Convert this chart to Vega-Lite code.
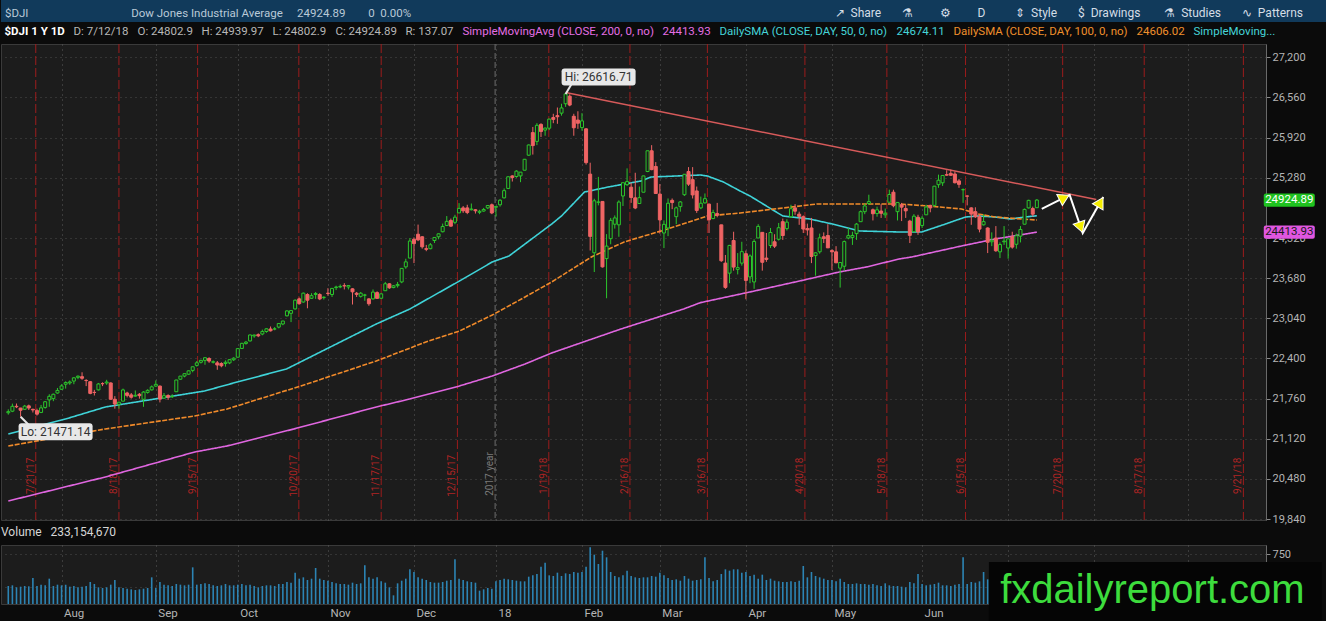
{
"$schema": "https://vega.github.io/schema/vega-lite/v6.json",
"background": "#0b0b0b",
"padding": 0,
"spacing": 0,
"config": {
  "font": "Roboto",
  "view": {"stroke": null},
  "axis": {"labelFont": "Roboto", "labelFontSize": 11, "labelColor": "#b5b5b5"},
  "title": {"font": "Roboto", "fontWeight": "normal"}
},
"title": {"text": "↗\u00a0\u00a0Share\u00a0\u00a0\u00a0\u00a0\u00a0\u00a0\u00a0⚗\u00a0\u00a0\u00a0\u00a0\u00a0\u00a0\u00a0\u00a0\u00a0⚙\u00a0\u00a0\u00a0\u00a0\u00a0\u00a0\u00a0\u00a0\u00a0D\u00a0\u00a0\u00a0\u00a0\u00a0\u00a0\u00a0\u00a0\u00a0\u00a0⇕\u00a0\u00a0Style\u00a0\u00a0\u00a0\u00a0\u00a0\u00a0\u00a0$\u00a0\u00a0Drawings\u00a0\u00a0\u00a0\u00a0\u00a0\u00a0\u00a0\u00a0⚗\u00a0\u00a0Studies\u00a0\u00a0\u00a0\u00a0\u00a0\u00a0\u00a0∿\u00a0\u00a0Patterns", "anchor": "end", "orient": "top", "offset": -20, "dx": -24, "fontSize": 12, "color": "#d4dde6", "frame": "bounds"},
"resolve": {"scale": {"color": "independent", "fill": "independent", "strokeDash": "independent"}, "legend": {"color": "independent"}},
"datasets": {
  "ohlc": [
{"i":0,"d":"2017-07-13","o":21535,"h":21590,"l":21505,"c":21553,"v":270},
{"i":1,"d":"2017-07-14","o":21560,"h":21681,"l":21545,"c":21638,"v":280},
{"i":2,"d":"2017-07-17","o":21638,"h":21682,"l":21609,"c":21630,"v":250},
{"i":3,"d":"2017-07-18","o":21610,"h":21613,"l":21471.14,"c":21575,"v":260},
{"i":4,"d":"2017-07-19","o":21590,"h":21660,"l":21585,"c":21641,"v":270},
{"i":5,"d":"2017-07-20","o":21645,"h":21665,"l":21579,"c":21611,"v":265},
{"i":6,"d":"2017-07-21","o":21590,"h":21600,"l":21539,"c":21580,"v":390},
{"i":7,"d":"2017-07-24","o":21570,"h":21600,"l":21490,"c":21513,"v":270},
{"i":8,"d":"2017-07-25","o":21540,"h":21660,"l":21530,"c":21613,"v":290},
{"i":9,"d":"2017-07-26","o":21620,"h":21720,"l":21600,"c":21711,"v":280},
{"i":10,"d":"2017-07-27","o":21740,"h":21830,"l":21630,"c":21797,"v":380},
{"i":11,"d":"2017-07-28","o":21760,"h":21840,"l":21720,"c":21830,"v":270},
{"i":12,"d":"2017-07-31","o":21850,"h":21930,"l":21840,"c":21891,"v":290},
{"i":13,"d":"2017-08-01","o":21910,"h":21990,"l":21900,"c":21963,"v":280},
{"i":14,"d":"2017-08-02","o":21990,"h":22036,"l":21920,"c":22016,"v":290},
{"i":15,"d":"2017-08-03","o":22010,"h":22050,"l":21980,"c":22026,"v":260},
{"i":16,"d":"2017-08-04","o":22040,"h":22100,"l":21990,"c":22092,"v":270},
{"i":17,"d":"2017-08-07","o":22100,"h":22130,"l":22070,"c":22118,"v":250},
{"i":18,"d":"2017-08-08","o":22110,"h":22180,"l":22060,"c":22085,"v":260},
{"i":19,"d":"2017-08-09","o":22050,"h":22070,"l":21960,"c":22048,"v":270},
{"i":20,"d":"2017-08-10","o":22030,"h":22040,"l":21830,"c":21844,"v":330},
{"i":21,"d":"2017-08-11","o":21860,"h":21900,"l":21810,"c":21858,"v":300},
{"i":22,"d":"2017-08-14","o":21900,"h":22010,"l":21890,"c":21994,"v":250},
{"i":23,"d":"2017-08-15","o":22000,"h":22020,"l":21960,"c":21998,"v":240},
{"i":24,"d":"2017-08-16","o":22010,"h":22060,"l":21980,"c":22025,"v":250},
{"i":25,"d":"2017-08-17","o":22010,"h":22020,"l":21745,"c":21750,"v":290},
{"i":26,"d":"2017-08-18","o":21750,"h":21800,"l":21600,"c":21674,"v":360},
{"i":27,"d":"2017-08-21","o":21670,"h":21710,"l":21600,"c":21703,"v":250},
{"i":28,"d":"2017-08-22","o":21720,"h":21920,"l":21720,"c":21899,"v":240},
{"i":29,"d":"2017-08-23","o":21850,"h":21870,"l":21780,"c":21812,"v":230},
{"i":30,"d":"2017-08-24","o":21820,"h":21850,"l":21760,"c":21783,"v":220},
{"i":31,"d":"2017-08-25","o":21800,"h":21890,"l":21790,"c":21813,"v":210},
{"i":32,"d":"2017-08-28","o":21830,"h":21850,"l":21760,"c":21808,"v":220},
{"i":33,"d":"2017-08-29","o":21750,"h":21880,"l":21630,"c":21865,"v":230},
{"i":34,"d":"2017-08-30","o":21860,"h":21910,"l":21840,"c":21892,"v":240},
{"i":35,"d":"2017-08-31","o":21900,"h":21970,"l":21890,"c":21948,"v":400},
{"i":36,"d":"2017-09-01","o":21960,"h":22050,"l":21950,"c":21988,"v":240},
{"i":37,"d":"2017-09-05","o":21960,"h":21970,"l":21700,"c":21753,"v":330},
{"i":38,"d":"2017-09-06","o":21770,"h":21850,"l":21760,"c":21807,"v":290},
{"i":39,"d":"2017-09-07","o":21810,"h":21830,"l":21740,"c":21784,"v":280},
{"i":40,"d":"2017-09-08","o":21790,"h":21830,"l":21770,"c":21798,"v":270},
{"i":41,"d":"2017-09-11","o":21870,"h":22060,"l":21870,"c":22057,"v":300},
{"i":42,"d":"2017-09-12","o":22070,"h":22120,"l":22060,"c":22119,"v":290},
{"i":43,"d":"2017-09-13","o":22120,"h":22160,"l":22100,"c":22158,"v":280},
{"i":44,"d":"2017-09-14","o":22150,"h":22210,"l":22140,"c":22203,"v":290},
{"i":45,"d":"2017-09-15","o":22210,"h":22270,"l":22180,"c":22268,"v":550},
{"i":46,"d":"2017-09-18","o":22290,"h":22360,"l":22270,"c":22331,"v":290},
{"i":47,"d":"2017-09-19","o":22340,"h":22380,"l":22320,"c":22370,"v":300},
{"i":48,"d":"2017-09-20","o":22370,"h":22420,"l":22300,"c":22412,"v":310},
{"i":49,"d":"2017-09-21","o":22400,"h":22420,"l":22330,"c":22359,"v":300},
{"i":50,"d":"2017-09-22","o":22340,"h":22370,"l":22320,"c":22349,"v":280},
{"i":51,"d":"2017-09-25","o":22330,"h":22360,"l":22220,"c":22296,"v":270},
{"i":52,"d":"2017-09-26","o":22320,"h":22340,"l":22260,"c":22284,"v":280},
{"i":53,"d":"2017-09-27","o":22320,"h":22370,"l":22270,"c":22340,"v":300},
{"i":54,"d":"2017-09-28","o":22330,"h":22390,"l":22310,"c":22381,"v":280},
{"i":55,"d":"2017-09-29","o":22380,"h":22420,"l":22360,"c":22405,"v":280},
{"i":56,"d":"2017-10-02","o":22420,"h":22560,"l":22420,"c":22557,"v":290},
{"i":57,"d":"2017-10-03","o":22560,"h":22650,"l":22550,"c":22641,"v":300},
{"i":58,"d":"2017-10-04","o":22640,"h":22680,"l":22620,"c":22661,"v":280},
{"i":59,"d":"2017-10-05","o":22680,"h":22780,"l":22670,"c":22775,"v":290},
{"i":60,"d":"2017-10-06","o":22760,"h":22780,"l":22730,"c":22774,"v":270},
{"i":61,"d":"2017-10-09","o":22780,"h":22800,"l":22740,"c":22761,"v":250},
{"i":62,"d":"2017-10-10","o":22790,"h":22860,"l":22770,"c":22831,"v":270},
{"i":63,"d":"2017-10-11","o":22830,"h":22880,"l":22810,"c":22873,"v":280},
{"i":64,"d":"2017-10-12","o":22870,"h":22910,"l":22830,"c":22841,"v":280},
{"i":65,"d":"2017-10-13","o":22870,"h":22900,"l":22850,"c":22871,"v":270},
{"i":66,"d":"2017-10-16","o":22900,"h":22960,"l":22880,"c":22957,"v":300},
{"i":67,"d":"2017-10-17","o":22950,"h":23000,"l":22930,"c":22997,"v":300},
{"i":68,"d":"2017-10-18","o":23080,"h":23170,"l":23070,"c":23158,"v":330},
{"i":69,"d":"2017-10-19","o":23120,"h":23170,"l":22980,"c":23163,"v":320},
{"i":70,"d":"2017-10-20","o":23190,"h":23340,"l":23180,"c":23329,"v":470},
{"i":71,"d":"2017-10-23","o":23350,"h":23370,"l":23260,"c":23274,"v":380},
{"i":72,"d":"2017-10-24","o":23300,"h":23450,"l":23290,"c":23441,"v":400},
{"i":73,"d":"2017-10-25","o":23420,"h":23440,"l":23200,"c":23329,"v":360},
{"i":74,"d":"2017-10-26","o":23360,"h":23440,"l":23350,"c":23401,"v":380},
{"i":75,"d":"2017-10-27","o":23420,"h":23460,"l":23350,"c":23435,"v":540},
{"i":76,"d":"2017-10-30","o":23420,"h":23440,"l":23330,"c":23349,"v":380},
{"i":77,"d":"2017-10-31","o":23370,"h":23390,"l":23340,"c":23377,"v":360},
{"i":78,"d":"2017-11-01","o":23440,"h":23520,"l":23400,"c":23436,"v":350},
{"i":79,"d":"2017-11-02","o":23420,"h":23520,"l":23380,"c":23517,"v":330},
{"i":80,"d":"2017-11-03","o":23530,"h":23560,"l":23490,"c":23539,"v":310},
{"i":81,"d":"2017-11-06","o":23540,"h":23580,"l":23520,"c":23549,"v":300},
{"i":82,"d":"2017-11-07","o":23560,"h":23600,"l":23500,"c":23557,"v":300},
{"i":83,"d":"2017-11-08","o":23540,"h":23570,"l":23500,"c":23563,"v":290},
{"i":84,"d":"2017-11-09","o":23510,"h":23520,"l":23260,"c":23462,"v":320},
{"i":85,"d":"2017-11-10","o":23440,"h":23460,"l":23380,"c":23422,"v":300},
{"i":86,"d":"2017-11-13","o":23390,"h":23460,"l":23370,"c":23440,"v":310},
{"i":87,"d":"2017-11-14","o":23410,"h":23430,"l":23320,"c":23410,"v":580},
{"i":88,"d":"2017-11-15","o":23350,"h":23360,"l":23240,"c":23272,"v":400},
{"i":89,"d":"2017-11-16","o":23350,"h":23500,"l":23340,"c":23458,"v":380},
{"i":90,"d":"2017-11-17","o":23450,"h":23470,"l":23350,"c":23358,"v":400},
{"i":91,"d":"2017-11-20","o":23360,"h":23440,"l":23350,"c":23430,"v":340},
{"i":92,"d":"2017-11-21","o":23480,"h":23620,"l":23480,"c":23591,"v":320},
{"i":93,"d":"2017-11-22","o":23590,"h":23600,"l":23510,"c":23526,"v":250},
{"i":94,"d":"2017-11-24","o":23530,"h":23570,"l":23520,"c":23558,"v":130},
{"i":95,"d":"2017-11-27","o":23560,"h":23620,"l":23530,"c":23580,"v":310},
{"i":96,"d":"2017-11-28","o":23620,"h":23840,"l":23600,"c":23836,"v":350},
{"i":97,"d":"2017-11-29","o":23860,"h":23990,"l":23830,"c":23940,"v":380},
{"i":98,"d":"2017-11-30","o":24000,"h":24320,"l":24000,"c":24272,"v":520},
{"i":99,"d":"2017-12-01","o":24300,"h":24330,"l":23920,"c":24231,"v":480},
{"i":100,"d":"2017-12-04","o":24380,"h":24534,"l":24270,"c":24290,"v":400},
{"i":101,"d":"2017-12-05","o":24340,"h":24350,"l":24150,"c":24180,"v":380},
{"i":102,"d":"2017-12-06","o":24150,"h":24210,"l":24110,"c":24140,"v":360},
{"i":103,"d":"2017-12-07","o":24150,"h":24240,"l":24140,"c":24212,"v":330},
{"i":104,"d":"2017-12-08","o":24280,"h":24330,"l":24240,"c":24329,"v":320},
{"i":105,"d":"2017-12-11","o":24340,"h":24390,"l":24300,"c":24387,"v":320},
{"i":106,"d":"2017-12-12","o":24420,"h":24550,"l":24410,"c":24504,"v":330},
{"i":107,"d":"2017-12-13","o":24520,"h":24670,"l":24510,"c":24585,"v":350},
{"i":108,"d":"2017-12-14","o":24600,"h":24630,"l":24500,"c":24509,"v":360},
{"i":109,"d":"2017-12-15","o":24570,"h":24690,"l":24540,"c":24652,"v":670},
{"i":110,"d":"2017-12-18","o":24720,"h":24876,"l":24720,"c":24792,"v":380},
{"i":111,"d":"2017-12-19","o":24800,"h":24830,"l":24720,"c":24754,"v":360},
{"i":112,"d":"2017-12-20","o":24800,"h":24850,"l":24700,"c":24726,"v":340},
{"i":113,"d":"2017-12-21","o":24770,"h":24870,"l":24760,"c":24782,"v":330},
{"i":114,"d":"2017-12-22","o":24770,"h":24780,"l":24710,"c":24754,"v":320},
{"i":115,"d":"2017-12-26","o":24730,"h":24770,"l":24700,"c":24746,"v":200},
{"i":116,"d":"2017-12-27","o":24750,"h":24800,"l":24740,"c":24775,"v":220},
{"i":117,"d":"2017-12-28","o":24800,"h":24840,"l":24780,"c":24838,"v":240},
{"i":118,"d":"2017-12-29","o":24850,"h":24870,"l":24700,"c":24719,"v":230},
{"i":119,"d":"2018-01-02","o":24810,"h":24830,"l":24660,"c":24824,"v":340},
{"i":120,"d":"2018-01-03","o":24850,"h":24940,"l":24820,"c":24922,"v":360},
{"i":121,"d":"2018-01-04","o":24960,"h":25110,"l":24950,"c":25075,"v":380},
{"i":122,"d":"2018-01-05","o":25110,"h":25300,"l":25100,"c":25296,"v":370},
{"i":123,"d":"2018-01-08","o":25310,"h":25320,"l":25220,"c":25283,"v":360},
{"i":124,"d":"2018-01-09","o":25300,"h":25400,"l":25280,"c":25386,"v":350},
{"i":125,"d":"2018-01-10","o":25310,"h":25370,"l":25210,"c":25370,"v":340},
{"i":126,"d":"2018-01-11","o":25400,"h":25580,"l":25400,"c":25575,"v":340},
{"i":127,"d":"2018-01-12","o":25640,"h":25810,"l":25630,"c":25803,"v":410},
{"i":128,"d":"2018-01-16","o":26000,"h":26090,"l":25650,"c":25793,"v":430},
{"i":129,"d":"2018-01-17","o":25860,"h":26150,"l":25800,"c":26116,"v":450},
{"i":130,"d":"2018-01-18","o":26130,"h":26150,"l":25930,"c":26017,"v":560},
{"i":131,"d":"2018-01-19","o":26040,"h":26080,"l":25950,"c":26072,"v":620},
{"i":132,"d":"2018-01-22","o":26070,"h":26220,"l":26040,"c":26215,"v":430},
{"i":133,"d":"2018-01-23","o":26240,"h":26300,"l":26150,"c":26211,"v":420},
{"i":134,"d":"2018-01-24","o":26270,"h":26400,"l":26140,"c":26253,"v":470},
{"i":135,"d":"2018-01-25","o":26310,"h":26460,"l":26270,"c":26393,"v":420},
{"i":136,"d":"2018-01-26","o":26460,"h":26616.71,"l":26410,"c":26616.71,"v":460},
{"i":137,"d":"2018-01-29","o":26580,"h":26610,"l":26420,"c":26439,"v":450},
{"i":138,"d":"2018-01-30","o":26260,"h":26300,"l":25950,"c":26077,"v":480},
{"i":139,"d":"2018-01-31","o":26200,"h":26340,"l":26060,"c":26149,"v":470},
{"i":140,"d":"2018-02-01","o":26080,"h":26310,"l":26030,"c":26187,"v":480},
{"i":141,"d":"2018-02-02","o":26060,"h":26070,"l":25490,"c":25521,"v":560},
{"i":142,"d":"2018-02-05","o":25338,"h":25520,"l":24121,"c":24346,"v":850},
{"i":143,"d":"2018-02-06","o":24085,"h":24946,"l":23778,"c":24913,"v":740},
{"i":144,"d":"2018-02-07","o":24890,"h":25294,"l":24840,"c":24893,"v":600},
{"i":145,"d":"2018-02-08","o":24903,"h":24903,"l":23849,"c":23860,"v":800},
{"i":146,"d":"2018-02-09","o":23992,"h":24382,"l":23360,"c":24191,"v":700},
{"i":147,"d":"2018-02-12","o":24310,"h":24640,"l":24220,"c":24602,"v":480},
{"i":148,"d":"2018-02-13","o":24540,"h":24680,"l":24470,"c":24640,"v":420},
{"i":149,"d":"2018-02-14","o":24530,"h":24920,"l":24340,"c":24893,"v":400},
{"i":150,"d":"2018-02-15","o":24990,"h":25200,"l":24830,"c":25201,"v":430},
{"i":151,"d":"2018-02-16","o":25170,"h":25430,"l":25150,"c":25219,"v":500},
{"i":152,"d":"2018-02-20","o":25130,"h":25200,"l":24880,"c":24965,"v":420},
{"i":153,"d":"2018-02-21","o":24960,"h":25360,"l":24780,"c":24798,"v":400},
{"i":154,"d":"2018-02-22","o":24870,"h":25140,"l":24870,"c":24963,"v":390},
{"i":155,"d":"2018-02-23","o":25050,"h":25310,"l":25050,"c":25310,"v":400},
{"i":156,"d":"2018-02-26","o":25380,"h":25710,"l":25370,"c":25710,"v":400},
{"i":157,"d":"2018-02-27","o":25710,"h":25800,"l":25400,"c":25410,"v":420},
{"i":158,"d":"2018-02-28","o":25460,"h":25530,"l":25030,"c":25029,"v":410},
{"i":159,"d":"2018-03-01","o":25020,"h":25180,"l":24390,"c":24609,"v":470},
{"i":160,"d":"2018-03-02","o":24400,"h":24600,"l":24160,"c":24538,"v":430},
{"i":161,"d":"2018-03-05","o":24480,"h":24950,"l":24350,"c":24874,"v":390},
{"i":162,"d":"2018-03-06","o":24920,"h":24950,"l":24780,"c":24885,"v":360},
{"i":163,"d":"2018-03-07","o":24660,"h":24820,"l":24540,"c":24801,"v":370},
{"i":164,"d":"2018-03-08","o":24820,"h":24910,"l":24740,"c":24895,"v":350},
{"i":165,"d":"2018-03-09","o":25010,"h":25340,"l":24990,"c":25336,"v":420},
{"i":166,"d":"2018-03-12","o":25380,"h":25450,"l":25150,"c":25179,"v":380},
{"i":167,"d":"2018-03-13","o":25250,"h":25450,"l":24950,"c":25007,"v":350},
{"i":168,"d":"2018-03-14","o":25070,"h":25140,"l":24720,"c":24759,"v":360},
{"i":169,"d":"2018-03-15","o":24800,"h":24980,"l":24780,"c":24874,"v":370},
{"i":170,"d":"2018-03-16","o":24880,"h":25030,"l":24870,"c":24947,"v":700},
{"i":171,"d":"2018-03-19","o":24860,"h":24870,"l":24400,"c":24611,"v":390},
{"i":172,"d":"2018-03-20","o":24630,"h":24770,"l":24620,"c":24727,"v":340},
{"i":173,"d":"2018-03-21","o":24710,"h":24880,"l":24650,"c":24683,"v":360},
{"i":174,"d":"2018-03-22","o":24530,"h":24530,"l":23940,"c":23958,"v":450},
{"i":175,"d":"2018-03-23","o":23920,"h":24050,"l":23510,"c":23533,"v":520},
{"i":176,"d":"2018-03-26","o":23760,"h":24210,"l":23600,"c":24202,"v":500},
{"i":177,"d":"2018-03-27","o":24280,"h":24420,"l":23800,"c":23857,"v":520},
{"i":178,"d":"2018-03-28","o":23820,"h":24080,"l":23740,"c":23849,"v":520},
{"i":179,"d":"2018-03-29","o":23920,"h":24260,"l":23880,"c":24103,"v":470},
{"i":180,"d":"2018-04-02","o":24070,"h":24120,"l":23344,"c":23644,"v":480},
{"i":181,"d":"2018-04-03","o":23700,"h":24060,"l":23600,"c":24034,"v":420},
{"i":182,"d":"2018-04-04","o":23620,"h":24300,"l":23510,"c":24265,"v":440},
{"i":183,"d":"2018-04-05","o":24320,"h":24540,"l":24320,"c":24505,"v":380},
{"i":184,"d":"2018-04-06","o":24410,"h":24410,"l":23800,"c":23933,"v":440},
{"i":185,"d":"2018-04-09","o":24000,"h":24400,"l":23940,"c":23979,"v":360},
{"i":186,"d":"2018-04-10","o":24200,"h":24480,"l":24160,"c":24408,"v":380},
{"i":187,"d":"2018-04-11","o":24260,"h":24380,"l":24160,"c":24190,"v":350},
{"i":188,"d":"2018-04-12","o":24300,"h":24560,"l":24280,"c":24484,"v":340},
{"i":189,"d":"2018-04-13","o":24580,"h":24630,"l":24290,"c":24360,"v":330},
{"i":190,"d":"2018-04-16","o":24470,"h":24620,"l":24440,"c":24573,"v":330},
{"i":191,"d":"2018-04-17","o":24660,"h":24850,"l":24640,"c":24787,"v":340},
{"i":192,"d":"2018-04-18","o":24800,"h":24860,"l":24690,"c":24748,"v":330},
{"i":193,"d":"2018-04-19","o":24700,"h":24740,"l":24530,"c":24665,"v":350},
{"i":194,"d":"2018-04-20","o":24660,"h":24680,"l":24400,"c":24463,"v":570},
{"i":195,"d":"2018-04-23","o":24470,"h":24550,"l":24360,"c":24449,"v":400},
{"i":196,"d":"2018-04-24","o":24480,"h":24640,"l":23920,"c":24025,"v":480},
{"i":197,"d":"2018-04-25","o":24040,"h":24090,"l":23720,"c":24084,"v":420},
{"i":198,"d":"2018-04-26","o":24100,"h":24390,"l":24070,"c":24323,"v":400},
{"i":199,"d":"2018-04-27","o":24340,"h":24410,"l":24240,"c":24311,"v":380},
{"i":200,"d":"2018-04-30","o":24360,"h":24540,"l":24160,"c":24163,"v":360},
{"i":201,"d":"2018-05-01","o":24120,"h":24140,"l":23810,"c":24100,"v":360},
{"i":202,"d":"2018-05-02","o":24100,"h":24190,"l":23920,"c":23925,"v":340},
{"i":203,"d":"2018-05-03","o":23840,"h":23930,"l":23530,"c":23930,"v":380},
{"i":204,"d":"2018-05-04","o":23870,"h":24280,"l":23800,"c":24263,"v":330},
{"i":205,"d":"2018-05-07","o":24320,"h":24480,"l":24300,"c":24358,"v":300},
{"i":206,"d":"2018-05-08","o":24330,"h":24420,"l":24210,"c":24361,"v":300},
{"i":207,"d":"2018-05-09","o":24390,"h":24560,"l":24290,"c":24542,"v":310},
{"i":208,"d":"2018-05-10","o":24580,"h":24760,"l":24580,"c":24740,"v":300},
{"i":209,"d":"2018-05-11","o":24740,"h":24870,"l":24700,"c":24831,"v":300},
{"i":210,"d":"2018-05-14","o":24870,"h":25010,"l":24850,"c":24900,"v":290},
{"i":211,"d":"2018-05-15","o":24770,"h":24790,"l":24600,"c":24707,"v":300},
{"i":212,"d":"2018-05-16","o":24710,"h":24820,"l":24660,"c":24769,"v":280},
{"i":213,"d":"2018-05-17","o":24750,"h":24860,"l":24640,"c":24714,"v":270},
{"i":214,"d":"2018-05-18","o":24690,"h":24790,"l":24640,"c":24715,"v":310},
{"i":215,"d":"2018-05-21","o":24890,"h":25090,"l":24890,"c":25013,"v":280},
{"i":216,"d":"2018-05-22","o":25050,"h":25090,"l":24810,"c":24835,"v":270},
{"i":217,"d":"2018-05-23","o":24740,"h":24890,"l":24600,"c":24887,"v":270},
{"i":218,"d":"2018-05-24","o":24850,"h":24880,"l":24590,"c":24812,"v":260},
{"i":219,"d":"2018-05-25","o":24790,"h":24850,"l":24640,"c":24753,"v":250},
{"i":220,"d":"2018-05-29","o":24590,"h":24610,"l":24240,"c":24362,"v":330},
{"i":221,"d":"2018-05-30","o":24420,"h":24700,"l":24420,"c":24668,"v":310},
{"i":222,"d":"2018-05-31","o":24650,"h":24690,"l":24370,"c":24416,"v":450},
{"i":223,"d":"2018-06-01","o":24520,"h":24670,"l":24480,"c":24635,"v":300},
{"i":224,"d":"2018-06-04","o":24690,"h":24850,"l":24690,"c":24814,"v":280},
{"i":225,"d":"2018-06-05","o":24840,"h":24850,"l":24730,"c":24800,"v":290},
{"i":226,"d":"2018-06-06","o":24840,"h":25150,"l":24820,"c":25146,"v":300},
{"i":227,"d":"2018-06-07","o":25170,"h":25330,"l":25120,"c":25241,"v":320},
{"i":228,"d":"2018-06-08","o":25200,"h":25320,"l":25150,"c":25317,"v":280},
{"i":229,"d":"2018-06-11","o":25330,"h":25400,"l":25310,"c":25322,"v":280},
{"i":230,"d":"2018-06-12","o":25350,"h":25410,"l":25310,"c":25320,"v":270},
{"i":231,"d":"2018-06-13","o":25340,"h":25380,"l":25190,"c":25201,"v":290},
{"i":232,"d":"2018-06-14","o":25230,"h":25260,"l":25120,"c":25175,"v":300},
{"i":233,"d":"2018-06-15","o":25090,"h":25110,"l":24880,"c":25090,"v":700},
{"i":234,"d":"2018-06-18","o":24990,"h":25000,"l":24840,"c":24987,"v":300},
{"i":235,"d":"2018-06-19","o":24800,"h":24810,"l":24530,"c":24701,"v":330},
{"i":236,"d":"2018-06-20","o":24740,"h":24810,"l":24640,"c":24658,"v":320},
{"i":237,"d":"2018-06-21","o":24660,"h":24700,"l":24410,"c":24462,"v":340},
{"i":238,"d":"2018-06-22","o":24530,"h":24700,"l":24520,"c":24581,"v":480},
{"i":239,"d":"2018-06-25","o":24480,"h":24490,"l":24080,"c":24252,"v":370},
{"i":240,"d":"2018-06-26","o":24260,"h":24410,"l":24190,"c":24284,"v":330},
{"i":241,"d":"2018-06-27","o":24320,"h":24510,"l":24100,"c":24117,"v":340},
{"i":242,"d":"2018-06-28","o":24100,"h":24250,"l":24000,"c":24216,"v":310},
{"i":243,"d":"2018-06-29","o":24260,"h":24510,"l":24210,"c":24271,"v":350},
{"i":244,"d":"2018-07-02","o":24160,"h":24310,"l":23990,"c":24307,"v":200},
{"i":245,"d":"2018-07-03","o":24340,"h":24420,"l":24150,"c":24175,"v":140},
{"i":246,"d":"2018-07-05","o":24220,"h":24390,"l":24150,"c":24357,"v":230},
{"i":247,"d":"2018-07-06","o":24350,"h":24510,"l":24250,"c":24456,"v":230},
{"i":248,"d":"2018-07-09","o":24540,"h":24790,"l":24540,"c":24776,"v":260},
{"i":249,"d":"2018-07-10","o":24800,"h":24930,"l":24790,"c":24920,"v":250},
{"i":250,"d":"2018-07-11","o":24790,"h":24820,"l":24660,"c":24700,"v":270},
{"i":251,"d":"2018-07-12","o":24802.9,"h":24939.97,"l":24802.9,"c":24924.89,"v":233.15467}
  ],
  "sma": [
{"s":"SimpleMovingAvg (CLOSE, 200, 0, no)","i":0,"p":20129},
{"s":"SimpleMovingAvg (CLOSE, 200, 0, no)","i":23.7,"p":20512},
{"s":"SimpleMovingAvg (CLOSE, 200, 0, no)","i":45.5,"p":20910},
{"s":"SimpleMovingAvg (CLOSE, 200, 0, no)","i":53.4,"p":21006},
{"s":"SimpleMovingAvg (CLOSE, 200, 0, no)","i":69.7,"p":21277},
{"s":"SimpleMovingAvg (CLOSE, 200, 0, no)","i":89.8,"p":21627},
{"s":"SimpleMovingAvg (CLOSE, 200, 0, no)","i":98,"p":21755},
{"s":"SimpleMovingAvg (CLOSE, 200, 0, no)","i":110.1,"p":21962},
{"s":"SimpleMovingAvg (CLOSE, 200, 0, no)","i":118.1,"p":22121},
{"s":"SimpleMovingAvg (CLOSE, 200, 0, no)","i":126.1,"p":22312},
{"s":"SimpleMovingAvg (CLOSE, 200, 0, no)","i":132.6,"p":22488},
{"s":"SimpleMovingAvg (CLOSE, 200, 0, no)","i":149.5,"p":22870},
{"s":"SimpleMovingAvg (CLOSE, 200, 0, no)","i":164.8,"p":23189},
{"s":"SimpleMovingAvg (CLOSE, 200, 0, no)","i":168.9,"p":23290},
{"s":"SimpleMovingAvg (CLOSE, 200, 0, no)","i":181,"p":23460},
{"s":"SimpleMovingAvg (CLOSE, 200, 0, no)","i":193.1,"p":23635},
{"s":"SimpleMovingAvg (CLOSE, 200, 0, no)","i":202.8,"p":23779},
{"s":"SimpleMovingAvg (CLOSE, 200, 0, no)","i":209.4,"p":23858},
{"s":"SimpleMovingAvg (CLOSE, 200, 0, no)","i":217.4,"p":23986},
{"s":"SimpleMovingAvg (CLOSE, 200, 0, no)","i":220.5,"p":24018},
{"s":"SimpleMovingAvg (CLOSE, 200, 0, no)","i":232.6,"p":24193},
{"s":"SimpleMovingAvg (CLOSE, 200, 0, no)","i":240.8,"p":24304},
{"s":"SimpleMovingAvg (CLOSE, 200, 0, no)","i":251,"p":24413.93},
{"s":"DailySMA (CLOSE, DAY, 50, 0, no)","i":0,"p":21197},
{"s":"DailySMA (CLOSE, DAY, 50, 0, no)","i":14,"p":21436},
{"s":"DailySMA (CLOSE, DAY, 50, 0, no)","i":23.7,"p":21627},
{"s":"DailySMA (CLOSE, DAY, 50, 0, no)","i":35.8,"p":21755},
{"s":"DailySMA (CLOSE, DAY, 50, 0, no)","i":47.9,"p":21882},
{"s":"DailySMA (CLOSE, DAY, 50, 0, no)","i":55.9,"p":22026},
{"s":"DailySMA (CLOSE, DAY, 50, 0, no)","i":67.9,"p":22233},
{"s":"DailySMA (CLOSE, DAY, 50, 0, no)","i":77.6,"p":22551},
{"s":"DailySMA (CLOSE, DAY, 50, 0, no)","i":89.8,"p":22950},
{"s":"DailySMA (CLOSE, DAY, 50, 0, no)","i":98,"p":23189},
{"s":"DailySMA (CLOSE, DAY, 50, 0, no)","i":110.1,"p":23635},
{"s":"DailySMA (CLOSE, DAY, 50, 0, no)","i":118.1,"p":23938},
{"s":"DailySMA (CLOSE, DAY, 50, 0, no)","i":122.2,"p":24034},
{"s":"DailySMA (CLOSE, DAY, 50, 0, no)","i":132.6,"p":24543},
{"s":"DailySMA (CLOSE, DAY, 50, 0, no)","i":135,"p":24671},
{"s":"DailySMA (CLOSE, DAY, 50, 0, no)","i":140.6,"p":25053},
{"s":"DailySMA (CLOSE, DAY, 50, 0, no)","i":146.4,"p":25133},
{"s":"DailySMA (CLOSE, DAY, 50, 0, no)","i":154.4,"p":25229},
{"s":"DailySMA (CLOSE, DAY, 50, 0, no)","i":156.8,"p":25292},
{"s":"DailySMA (CLOSE, DAY, 50, 0, no)","i":168.9,"p":25324},
{"s":"DailySMA (CLOSE, DAY, 50, 0, no)","i":170.6,"p":25308},
{"s":"DailySMA (CLOSE, DAY, 50, 0, no)","i":174.5,"p":25213},
{"s":"DailySMA (CLOSE, DAY, 50, 0, no)","i":178.6,"p":25069},
{"s":"DailySMA (CLOSE, DAY, 50, 0, no)","i":181,"p":24990},
{"s":"DailySMA (CLOSE, DAY, 50, 0, no)","i":189,"p":24671},
{"s":"DailySMA (CLOSE, DAY, 50, 0, no)","i":195.6,"p":24623},
{"s":"DailySMA (CLOSE, DAY, 50, 0, no)","i":201.1,"p":24543},
{"s":"DailySMA (CLOSE, DAY, 50, 0, no)","i":207.7,"p":24432},
{"s":"DailySMA (CLOSE, DAY, 50, 0, no)","i":217.4,"p":24416},
{"s":"DailySMA (CLOSE, DAY, 50, 0, no)","i":222.9,"p":24416},
{"s":"DailySMA (CLOSE, DAY, 50, 0, no)","i":228.7,"p":24543},
{"s":"DailySMA (CLOSE, DAY, 50, 0, no)","i":233.6,"p":24655},
{"s":"DailySMA (CLOSE, DAY, 50, 0, no)","i":236.7,"p":24671},
{"s":"DailySMA (CLOSE, DAY, 50, 0, no)","i":240.8,"p":24655},
{"s":"DailySMA (CLOSE, DAY, 50, 0, no)","i":244.7,"p":24623},
{"s":"DailySMA (CLOSE, DAY, 50, 0, no)","i":248.1,"p":24655},
{"s":"DailySMA (CLOSE, DAY, 50, 0, no)","i":251,"p":24674.11},
{"s":"DailySMA (CLOSE, DAY, 100, 0, no)","i":0,"p":21006},
{"s":"DailySMA (CLOSE, DAY, 100, 0, no)","i":23.7,"p":21277},
{"s":"DailySMA (CLOSE, DAY, 100, 0, no)","i":45.5,"p":21484},
{"s":"DailySMA (CLOSE, DAY, 100, 0, no)","i":53.4,"p":21595},
{"s":"DailySMA (CLOSE, DAY, 100, 0, no)","i":71.4,"p":21962},
{"s":"DailySMA (CLOSE, DAY, 100, 0, no)","i":89.8,"p":22360},
{"s":"DailySMA (CLOSE, DAY, 100, 0, no)","i":101.9,"p":22663},
{"s":"DailySMA (CLOSE, DAY, 100, 0, no)","i":110.1,"p":22838},
{"s":"DailySMA (CLOSE, DAY, 100, 0, no)","i":118.1,"p":23093},
{"s":"DailySMA (CLOSE, DAY, 100, 0, no)","i":126.1,"p":23380},
{"s":"DailySMA (CLOSE, DAY, 100, 0, no)","i":132.6,"p":23619},
{"s":"DailySMA (CLOSE, DAY, 100, 0, no)","i":142.3,"p":24018},
{"s":"DailySMA (CLOSE, DAY, 100, 0, no)","i":150.3,"p":24257},
{"s":"DailySMA (CLOSE, DAY, 100, 0, no)","i":160.9,"p":24464},
{"s":"DailySMA (CLOSE, DAY, 100, 0, no)","i":170.6,"p":24671},
{"s":"DailySMA (CLOSE, DAY, 100, 0, no)","i":178.6,"p":24719},
{"s":"DailySMA (CLOSE, DAY, 100, 0, no)","i":189,"p":24798},
{"s":"DailySMA (CLOSE, DAY, 100, 0, no)","i":197.3,"p":24862},
{"s":"DailySMA (CLOSE, DAY, 100, 0, no)","i":209.4,"p":24862},
{"s":"DailySMA (CLOSE, DAY, 100, 0, no)","i":217.4,"p":24862},
{"s":"DailySMA (CLOSE, DAY, 100, 0, no)","i":224.6,"p":24830},
{"s":"DailySMA (CLOSE, DAY, 100, 0, no)","i":232.6,"p":24783},
{"s":"DailySMA (CLOSE, DAY, 100, 0, no)","i":236.7,"p":24703},
{"s":"DailySMA (CLOSE, DAY, 100, 0, no)","i":240.8,"p":24655},
{"s":"DailySMA (CLOSE, DAY, 100, 0, no)","i":251,"p":24606.02}
  ],
  "opex": [
{"i":6.7,"t":"7/21/17"},{"i":27,"t":"8/18/17"},{"i":46.2,"t":"9/15/17"},{"i":70.9,"t":"10/20/17"},{"i":91,"t":"11/17/17"},{"i":109.6,"t":"12/15/17"},{"i":131.9,"t":"1/19/18"},{"i":151.7,"t":"2/16/18"},{"i":170.6,"t":"3/16/18"},{"i":194.4,"t":"4/20/18"},{"i":214.4,"t":"5/18/18"},{"i":233.6,"t":"6/15/18"},{"i":257.3,"t":"7/20/18"},{"i":277.2,"t":"8/17/18"},{"i":301.4,"t":"9/21/18"}
  ],
  "yearline": [{"i":118.8,"t":"2017 year"}],
  "trend": [{"i":136,"p":26640},{"i":265.5,"p":24935}],
  "arrowPath": [{"k":0,"i":252.2,"p":24783},{"k":1,"i":259.0,"p":25006},{"k":2,"i":262.2,"p":24400},{"k":3,"i":267.2,"p":24974}],
  "arrowHeads": [{"n":1,"i":257.7,"p":24963},{"n":2,"i":261.7,"p":24491},{"n":3,"i":266.5,"p":24891}],
  "callout": [{"k":"hi","t":"Hi: 26616.71","i":136,"p":26616.71},{"k":"lo","t":"Lo: 21471.14","i":3,"p":21471.14}],
  "badge": [{"k":"close","t":"24924.89","p":24924.89},{"k":"sma200","t":"24413.93","p":24413.93}]
},
"vconcat": [
 {
  "width": 1326, "height": 22,
  "view": {"fill": "#113a5b", "stroke": null},
  "title": {"text": "\u00a0\u00a0$DJI\u00a0\u00a0\u00a0\u00a0\u00a0\u00a0\u00a0\u00a0\u00a0\u00a0\u00a0\u00a0\u00a0\u00a0\u00a0\u00a0\u00a0\u00a0\u00a0\u00a0\u00a0\u00a0\u00a0\u00a0\u00a0\u00a0\u00a0\u00a0\u00a0\u00a0\u00a0\u00a0\u00a0\u00a0\u00a0\u00a0Dow Jones Industrial Average\u00a0\u00a0\u00a0\u00a0\u00a024924.89\u00a0\u00a0\u00a0\u00a0\u00a0\u00a0\u00a0\u00a00\u00a0\u00a00.00%", "anchor": "start", "orient": "top", "offset": -19, "dx": 4, "fontSize": 11.5, "color": "#b9c9d7", "frame": "group"},
  "data": {"values": [{"t": ""}]},
  "mark": {"type": "text"},
  "encoding": {"text": {"field": "t"}}
 },
 {
  "width": 1265, "height": 476,
  "view": {"fill": "#1c1c1c", "stroke": "#3a3a3a"},
  "layer": [
   {"data": {"name": "opex"}, "mark": {"type": "rule", "color": "#9c1c1c", "strokeDash": [9, 3], "strokeWidth": 1},
    "encoding": {"x": {"field": "i", "type": "quantitative", "scale": {"domain": [-0.56, 305.7], "nice": false, "zero": false},
      "axis": {"values": [13,36,56,78,99,119,140,159,180,201,223,244,265,288], "grid": true, "gridColor": "#5c5c5c", "gridDash": [1, 4], "labels": false, "ticks": false, "domain": false, "title": null}}}},
   {"data": {"name": "yearline"}, "mark": {"type": "rule", "color": "#6e6e6e", "strokeDash": [6, 3], "strokeWidth": 1},
    "encoding": {"x": {"field": "i", "type": "quantitative", "scale": {"domain": [-0.56, 305.7], "nice": false, "zero": false}}}},
   {"data": {"name": "opex"}, "mark": {"type": "text", "angle": 270, "baseline": "bottom", "align": "center", "color": "#b02424", "fontSize": 10},
    "encoding": {"x": {"field": "i", "type": "quantitative", "scale": {"domain": [-0.56, 305.7], "nice": false, "zero": false}},
      "y": {"datum": 20530, "type": "quantitative", "scale": {"domain": [19826, 27412], "nice": false, "zero": false},
        "axis": {"orient": "right", "values": [19840,20160,20480,20800,21120,21440,21760,22080,22400,22720,23040,23360,23680,24000,24320,24640,25280,25600,25920,26240,26560,26880,27200], "grid": true, "gridColor": "#4c4c4c", "gridDash": [1, 4], "tickSize": 4, "tickColor": "#8a8a8a", "domainColor": "#6a6a6a", "labelPadding": 2, "title": null}},
      "text": {"field": "t"}}},
   {"data": {"name": "yearline"}, "mark": {"type": "text", "angle": 270, "baseline": "bottom", "align": "center", "color": "#7a7a7a", "fontSize": 10},
    "encoding": {"x": {"field": "i", "type": "quantitative", "scale": {"domain": [-0.56, 305.7], "nice": false, "zero": false}},
      "y": {"datum": 20560, "type": "quantitative"}, "text": {"field": "t"}}},
   {"data": {"name": "trend"}, "mark": {"type": "line", "color": "#d65a5a", "strokeWidth": 1.5},
    "encoding": {"x": {"field": "i", "type": "quantitative", "scale": {"domain": [-0.56, 305.7], "nice": false, "zero": false}}, "y": {"field": "p", "type": "quantitative"}}},
   {"data": {"name": "sma"}, "mark": {"type": "line", "strokeWidth": 1.6},
    "encoding": {"x": {"field": "i", "type": "quantitative", "scale": {"domain": [-0.56, 305.7], "nice": false, "zero": false}}, "y": {"field": "p", "type": "quantitative"},
      "color": {"field": "s", "type": "nominal",
        "scale": {"domain": ["$DJI 1 Y 1D", "D: 7/12/18", "O: 24802.9", "H: 24939.97", "L: 24802.9", "C: 24924.89", "R: 137.07", "SimpleMovingAvg (CLOSE, 200, 0, no)", "24413.93", "DailySMA (CLOSE, DAY, 50, 0, no)", "24674.11", "DailySMA (CLOSE, DAY, 100, 0, no)", "24606.02", "SimpleMoving..."],
                  "range": ["#ffffff", "#b8b8b8", "#b8b8b8", "#b8b8b8", "#b8b8b8", "#b8b8b8", "#b8b8b8", "#e066e0", "#e066e0", "#3fd3d8", "#3fd3d8", "#f08a2a", "#f08a2a", "#3fd3d8"]},
        "legend": {"title": null, "orient": "top", "direction": "horizontal", "symbolSize": 1, "symbolOpacity": 0, "symbolStrokeWidth": 0, "labelOffset": -11, "columnPadding": 8, "labelFontSize": 11.5, "labelFont": "Roboto", "labelLimit": 400, "padding": 3, "offset": 3,
          "labelFontWeight": {"expr": "datum.index == 0 ? 'bold' : 'normal'"},
          "labelColor": {"expr": "datum.index == 0 ? '#ffffff' : datum.index < 7 ? '#b8b8b8' : datum.index < 9 ? '#e46ee4' : datum.index < 11 ? '#45d4d8' : datum.index < 13 ? '#f0902c' : '#45d4d8'"}}},
      "strokeDash": {"field": "s", "type": "nominal", "scale": {"domain": ["SimpleMovingAvg (CLOSE, 200, 0, no)", "DailySMA (CLOSE, DAY, 50, 0, no)", "DailySMA (CLOSE, DAY, 100, 0, no)"], "range": [[1, 0], [1, 0], [5, 1.5]]}, "legend": null}}},
   {"data": {"name": "ohlc"}, "mark": {"type": "rule", "strokeWidth": 1},
    "encoding": {"x": {"field": "i", "type": "quantitative", "scale": {"domain": [-0.56, 305.7], "nice": false, "zero": false}}, "y": {"field": "l", "type": "quantitative"}, "y2": {"field": "h"},
      "color": {"condition": {"test": "datum.c >= datum.o", "value": "#2cc62c"}, "value": "#ef6464"}}},
   {"data": {"name": "ohlc"}, "mark": {"type": "bar", "size": 3, "strokeWidth": 1},
    "encoding": {"x": {"field": "i", "type": "quantitative", "scale": {"domain": [-0.56, 305.7], "nice": false, "zero": false}}, "y": {"field": "o", "type": "quantitative"}, "y2": {"field": "c"},
      "fill": {"condition": {"test": "datum.c >= datum.o", "value": "#1c1c1c"}, "value": "#ef6464"},
      "stroke": {"condition": {"test": "datum.c >= datum.o", "value": "#2cc62c"}, "value": "#ef6464"}}},
   {"data": {"name": "arrowPath"}, "mark": {"type": "line", "color": "#ffffff", "strokeWidth": 2},
    "encoding": {"x": {"field": "i", "type": "quantitative", "scale": {"domain": [-0.56, 305.7], "nice": false, "zero": false}}, "y": {"field": "p", "type": "quantitative"}, "order": {"field": "k"}}},
   {"data": {"name": "arrowHeads"}, "transform": [{"filter": "datum.n == 1"}], "mark": {"type": "point", "shape": "triangle-up", "filled": true, "size": 150, "angle": 63, "fill": "#f4ee00", "stroke": "#ffffff", "strokeWidth": 1, "opacity": 1},
    "encoding": {"x": {"field": "i", "type": "quantitative", "scale": {"domain": [-0.56, 305.7], "nice": false, "zero": false}}, "y": {"field": "p", "type": "quantitative"}}},
   {"data": {"name": "arrowHeads"}, "transform": [{"filter": "datum.n == 2"}], "mark": {"type": "point", "shape": "triangle-up", "filled": true, "size": 150, "angle": 161, "fill": "#f4ee00", "stroke": "#ffffff", "strokeWidth": 1, "opacity": 1},
    "encoding": {"x": {"field": "i", "type": "quantitative", "scale": {"domain": [-0.56, 305.7], "nice": false, "zero": false}}, "y": {"field": "p", "type": "quantitative"}}},
   {"data": {"name": "arrowHeads"}, "transform": [{"filter": "datum.n == 3"}], "mark": {"type": "point", "shape": "triangle-up", "filled": true, "size": 150, "angle": 30, "fill": "#f4ee00", "stroke": "#ffffff", "strokeWidth": 1, "opacity": 1},
    "encoding": {"x": {"field": "i", "type": "quantitative", "scale": {"domain": [-0.56, 305.7], "nice": false, "zero": false}}, "y": {"field": "p", "type": "quantitative"}}},
   {"data": {"name": "callout"}, "transform": [{"filter": "datum.k == 'hi'"}], "mark": {"type": "rule", "color": "#e6e6e6", "strokeWidth": 2, "x2Offset": 6, "y2Offset": -10},
    "encoding": {"x": {"field": "i", "type": "quantitative", "scale": {"domain": [-0.56, 305.7], "nice": false, "zero": false}}, "y": {"field": "p", "type": "quantitative"}, "x2": {"field": "i"}, "y2": {"field": "p"}}},
   {"data": {"name": "callout"}, "transform": [{"filter": "datum.k == 'lo'"}], "mark": {"type": "rule", "color": "#e6e6e6", "strokeWidth": 2, "x2Offset": 9, "y2Offset": 9},
    "encoding": {"x": {"field": "i", "type": "quantitative", "scale": {"domain": [-0.56, 305.7], "nice": false, "zero": false}}, "y": {"field": "p", "type": "quantitative"}, "x2": {"field": "i"}, "y2": {"field": "p"}}},
   {"data": {"name": "callout"}, "transform": [{"filter": "datum.k == 'hi'"}], "mark": {"type": "point", "filled": true, "opacity": 1, "fill": "#e8e8e8", "strokeWidth": 0, "size": 5476, "xOffset": 33, "yOffset": -17,
      "shape": "M-0.92,-0.23 L0.92,-0.23 Q1,-0.23 1,-0.15 L1,0.15 Q1,0.23 0.92,0.23 L-0.92,0.23 Q-1,0.23 -1,0.15 L-1,-0.15 Q-1,-0.23 -0.92,-0.23 Z"},
    "encoding": {"x": {"field": "i", "type": "quantitative", "scale": {"domain": [-0.56, 305.7], "nice": false, "zero": false}}, "y": {"field": "p", "type": "quantitative"}}},
   {"data": {"name": "callout"}, "transform": [{"filter": "datum.k == 'lo'"}], "mark": {"type": "point", "filled": true, "opacity": 1, "fill": "#e8e8e8", "strokeWidth": 0, "size": 5476, "xOffset": 35, "yOffset": 15,
      "shape": "M-0.92,-0.23 L0.92,-0.23 Q1,-0.23 1,-0.15 L1,0.15 Q1,0.23 0.92,0.23 L-0.92,0.23 Q-1,0.23 -1,0.15 L-1,-0.15 Q-1,-0.23 -0.92,-0.23 Z"},
    "encoding": {"x": {"field": "i", "type": "quantitative", "scale": {"domain": [-0.56, 305.7], "nice": false, "zero": false}}, "y": {"field": "p", "type": "quantitative"}}},
   {"data": {"name": "callout"}, "transform": [{"filter": "datum.k == 'hi'"}], "mark": {"type": "text", "color": "#333333", "fontSize": 12, "align": "center", "baseline": "middle", "xOffset": 33, "yOffset": -17},
    "encoding": {"x": {"field": "i", "type": "quantitative", "scale": {"domain": [-0.56, 305.7], "nice": false, "zero": false}}, "y": {"field": "p", "type": "quantitative"}, "text": {"field": "t"}}},
   {"data": {"name": "callout"}, "transform": [{"filter": "datum.k == 'lo'"}], "mark": {"type": "text", "color": "#333333", "fontSize": 12, "align": "center", "baseline": "middle", "xOffset": 35, "yOffset": 15},
    "encoding": {"x": {"field": "i", "type": "quantitative", "scale": {"domain": [-0.56, 305.7], "nice": false, "zero": false}}, "y": {"field": "p", "type": "quantitative"}, "text": {"field": "t"}}},
   {"data": {"name": "badge"}, "mark": {"type": "point", "filled": true, "opacity": 1, "strokeWidth": 0, "size": 2601,
      "shape": "M-0.92,-0.26 L0.92,-0.26 Q1,-0.26 1,-0.18 L1,0.18 Q1,0.26 0.92,0.26 L-0.92,0.26 Q-1,0.26 -1,0.18 L-1,-0.18 Q-1,-0.26 -0.92,-0.26 Z"},
    "encoding": {"x": {"datum": 312.6, "type": "quantitative", "scale": {"domain": [-0.56, 305.7], "nice": false, "zero": false}}, "y": {"field": "p", "type": "quantitative"},
      "fill": {"field": "k", "type": "nominal", "scale": {"domain": ["close", "sma200"], "range": ["#1fc21f", "#e056e0"]}, "legend": null}}},
   {"data": {"name": "badge"}, "mark": {"type": "text", "fontSize": 11.5, "align": "center", "baseline": "middle"},
    "encoding": {"x": {"datum": 312.6, "type": "quantitative", "scale": {"domain": [-0.56, 305.7], "nice": false, "zero": false}}, "y": {"field": "p", "type": "quantitative"}, "text": {"field": "t"},
      "color": {"condition": {"test": "datum.k == 'close'", "value": "#ffffff"}, "value": "#1a1a1a"}}}
  ]
 },
 {
  "width": 1265, "height": 59,
  "title": {"text": "\u00a0Volume\u00a0\u00a0\u00a0233,154,670", "anchor": "start", "fontSize": 12, "color": "#d6d6d6", "offset": 6, "frame": "group"},
  "view": {"fill": "#1c1c1c", "stroke": "#3a3a3a"},
  "layer": [
   {"data": {"name": "ohlc"}, "mark": {"type": "bar", "size": 1.6, "color": "#2c84b4"},
    "encoding": {"x": {"field": "i", "type": "quantitative", "scale": {"domain": [-0.56, 305.7], "nice": false, "zero": false},
        "axis": {"values": [13,36,56,78,99,119,140,159,180,201,223,244,265,288], "labelExpr": "['Aug','Sep','Oct','Nov','Dec','18','Feb','Mar','Apr','May','Jun','','',''][indexof([13,36,56,78,99,119,140,159,180,201,223,244,265,288], datum.value)]", "grid": true, "gridColor": "#5c5c5c", "gridDash": [1, 4], "ticks": false, "domain": false, "labelAlign": "left", "labelOffset": 2, "labelPadding": 3, "labelFontSize": 11.5, "title": null}},
      "y": {"field": "v", "type": "quantitative", "scale": {"domain": [0, 885], "nice": false, "zero": true},
        "axis": {"orient": "right", "values": [250, 500, 750], "labelExpr": "datum.value == 750 ? '750' : ''", "grid": true, "gridColor": "#4c4c4c", "gridDash": [1, 4], "tickSize": 4, "tickColor": "#8a8a8a", "domainColor": "#6a6a6a", "labelPadding": 2, "title": null}}}},
   {"data": {"values": [{"t": "fxdailyreport.com"}]}, "mark": {"type": "rect", "color": "#050505"},
    "encoding": {"x": {"datum": 239.3, "type": "quantitative"}, "x2": {"datum": 320.5}, "y": {"datum": 630, "type": "quantitative"}, "y2": {"datum": -255}}},
   {"data": {"values": [{"t": "fxdailyreport.com"}]}, "mark": {"type": "text", "font": "Liberation Sans", "fontSize": 40, "color": "#3ddc3d", "align": "center", "baseline": "alphabetic"},
    "encoding": {"x": {"datum": 279.2, "type": "quantitative"}, "y": {"datum": 15, "type": "quantitative"}, "text": {"field": "t"}}}
  ]
 }
]
}
